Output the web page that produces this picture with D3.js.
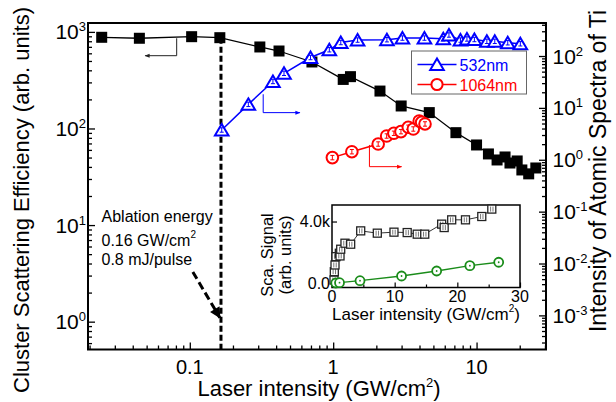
<!DOCTYPE html>
<html>
<head>
<meta charset="utf-8">
<script src="https://cdn.jsdelivr.net/npm/d3@7"></script>
<style>
  body { margin: 0; background: #fff; }
  text { font-family: "Liberation Sans", Arial, sans-serif; }
</style>
</head>
<body>
<div id="chart"></div>
<script>
// Black squares: cluster scattering efficiency (left axis)
const scatX = [0.0243, 0.0445, 0.103, 0.162, 0.308, 0.419, 0.711, 1.175, 1.32, 2.12, 2.98, 4.68, 7.18, 10.0, 12.1, 13.9, 15.8, 17.1, 19.2, 20.7, 23.1, 25.9];
const scatY = [879, 859, 892, 871, 698, 634, 488, 322, 344, 244, 171, 146, 90.5, 67.5, 54.5, 47.2, 50.7, 43.9, 46.1, 37.2, 33.9, 39.0];

// 532nm atomic spectra (right axis)
const g532X = [0.167, 0.256, 0.380, 0.454, 0.695, 0.940, 1.13, 1.48, 2.37, 3.04, 4.33, 5.86, 6.42, 7.72, 8.57, 9.66, 11.8, 13.4, 16.5, 20.2];
const g532Y = [3.75, 11.7, 32.3, 46.4, 93.6, 132, 182, 203, 206, 222, 222, 215, 254, 203, 213, 208, 192, 192, 180, 172];

// 1064nm atomic spectra (right axis)
const r1064X = [0.987, 1.35, 2.06, 2.36, 2.65, 2.97, 3.34, 3.62, 3.98, 4.14, 4.37];
const r1064Y = [1.10, 1.43, 2.01, 2.87, 3.24, 3.48, 4.23, 3.92, 5.59, 5.28, 4.90];

// Inset (linear): scattering signal and green series
const insetSqX = [0.32, 0.37, 0.48, 0.64, 1.17, 1.28, 1.39, 2.07, 2.98, 4.58, 7.23, 9.89, 12.0, 13.6, 14.8, 17.5, 17.9, 19.1, 21.3, 23.9, 25.5];
const insetSqY = [214, 753, 1188, 1727, 1948, 1773, 2208, 2597, 2532, 3396, 3247, 3312, 3286, 3182, 3182, 3831, 3610, 4110, 4110, 4325, 4805];
const insetCirX = [0.6, 1.2, 4.47, 11.1, 16.7, 22.0, 26.6];
const insetCirY = [20, 40, 169, 474, 799, 1143, 1364];

// Tick labels
const xTicks = [0.1, 1, 10];
const xTickLabels = ["0.1", "1", "10"];
const leftExp = [0, 1, 2, 3];
const rightExp = [-3, -2, -1, 0, 1, 2];
const insetXTicks = [0, 10, 20, 30];
const insetYTicks = [0, 4000];
const insetYTickLabels = ["0.0", "4.0k"];

const W = 616, H = 402;
const margin = { top: 23, right: 70, bottom: 52.5, left: 88 };
const width = W - margin.left - margin.right;
const height = H - margin.top - margin.bottom;

const svg = d3.select("#chart").append("svg")
    .attr("width", W).attr("height", H);

// arrowheads
const defs = svg.append("defs");
[["ah-black", "#222"], ["ah-blue", "#0000ff"], ["ah-red", "#ff0000"]].forEach(([id, c]) => {
    defs.append("marker").attr("id", id)
        .attr("viewBox", "0 0 10 10").attr("refX", 9).attr("refY", 5)
        .attr("markerWidth", 7).attr("markerHeight", 5).attr("orient", "auto")
        .attr("markerUnits", "userSpaceOnUse")
        .append("path").attr("d", "M0,1 L10,5 L0,9 Z").attr("fill", c);
});
defs.append("marker").attr("id", "ah-big")
    .attr("viewBox", "0 0 10 10").attr("refX", 9).attr("refY", 5)
    .attr("markerWidth", 13).attr("markerHeight", 11).attr("orient", "auto")
    .attr("markerUnits", "userSpaceOnUse")
    .append("path").attr("d", "M0,0 L10,5 L0,10 Z").attr("fill", "#000");

const g = svg.append("g").attr("transform", `translate(${margin.left},${margin.top})`);

const x = d3.scaleLog().domain([0.0195, 30.5]).range([0, width]);
const yL = d3.scaleLog().domain([0.515, 1236]).range([height, 0]);
const yR = d3.scaleLog().domain([2.2e-4, 433]).range([height, 0]);

function minorTicks(domain) {
    const out = [];
    const lo = Math.floor(Math.log10(domain[0])), hi = Math.ceil(Math.log10(domain[1]));
    for (let e = lo; e <= hi; e++) {
        for (let k = 2; k <= 9; k++) {
            const v = k * Math.pow(10, e);
            if (v >= domain[0] && v <= domain[1]) out.push(v);
        }
    }
    return out;
}
function majorTicks(domain) {
    const out = [];
    for (let e = Math.ceil(Math.log10(domain[0])); Math.pow(10, e) <= domain[1]; e++) out.push(Math.pow(10, e));
    return out;
}

// ticks (inward)
function tickLayer(axisFn, scale, tx, ty) {
    const d = scale.domain();
    const gg = g.append("g").attr("transform", `translate(${tx},${ty})`);
    gg.append("g").call(axisFn(scale).tickValues(minorTicks(d)).tickSize(-4).tickFormat(""));
    gg.append("g").call(axisFn(scale).tickValues(majorTicks(d)).tickSize(-7).tickFormat(""));
    gg.selectAll(".domain").remove();
    gg.selectAll("line").attr("stroke", "#000").attr("stroke-width", 1.3);
}
tickLayer(d3.axisBottom, x, 0, height);
tickLayer(d3.axisLeft, yL, 0, 0);
tickLayer(d3.axisRight, yR, width, 0);

// frame
g.append("rect").attr("width", width).attr("height", height)
    .attr("fill", "none").attr("stroke", "#000").attr("stroke-width", 2);

// tick labels
g.selectAll(".xlab").data(xTicks).join("text")
    .attr("x", d => x(d)).attr("y", height + 24)
    .attr("text-anchor", "middle").attr("font-size", 20)
    .text((d, i) => xTickLabels[i]);

function powLabel(sel, anchor) {
    sel.attr("text-anchor", anchor).attr("font-size", 21);
    sel.append("tspan").text("10");
    sel.append("tspan").attr("font-size", 13).attr("dy", -8).text(d => d);
}
g.selectAll(".ylab").data(leftExp).join("text")
    .attr("x", -2).attr("y", d => yL(Math.pow(10, d)) + 7.5)
    .call(powLabel, "end");
g.selectAll(".yrlab").data(rightExp).join("text")
    .attr("x", width + 6.5).attr("y", d => yR(Math.pow(10, d)) + 7.5)
    .call(powLabel, "start");

// axis titles
const xTitle = svg.append("text").attr("x", 319).attr("y", 396)
    .attr("text-anchor", "middle").attr("font-size", 22);
xTitle.append("tspan").text("Laser intensity (GW/cm");
xTitle.append("tspan").attr("font-size", 13).attr("dy", -9).text("2");
xTitle.append("tspan").attr("dy", 9).text(")");

svg.append("text").attr("transform", "translate(29,200) rotate(-90)")
    .attr("text-anchor", "middle").attr("font-size", 22)
    .text("Cluster Scattering Efficiency (arb. units)");
svg.append("text").attr("transform", "translate(606,171) rotate(-90)")
    .attr("text-anchor", "middle").attr("font-size", 23)
    .text("Intensity of Atomic Spectra of Ti");

// dashed ablation line
const ablX = 0.165;
g.append("line")
    .attr("x1", x(ablX)).attr("x2", x(ablX))
    .attr("y1", yL(871)).attr("y2", height)
    .attr("stroke", "#000").attr("stroke-width", 3).attr("stroke-dasharray", "6,3");

// annotation text
const ann = g.append("text").attr("font-size", 16).attr("fill", "#000");
ann.append("tspan").attr("x", 13.5).attr("y", 198.5).text("Ablation energy");
ann.append("tspan").attr("x", 13.5).attr("y", 222.5).text("0.16 GW/cm");
ann.append("tspan").attr("font-size", 10).attr("dy", -8).text("2");
ann.append("tspan").attr("x", 13.5).attr("y", 242).text("0.8 mJ/pulse");

g.append("line")
    .attr("x1", x(0.105)).attr("y1", yL(3.27))
    .attr("x2", x(0.162)).attr("y2", yL(1.1))
    .attr("stroke", "#000").attr("stroke-width", 3).attr("stroke-dasharray", "8,4")
    .attr("marker-end", "url(#ah-big)");

// series lines
const line = (xs, ys, yS) => d3.line().x((d, i) => x(xs[i])).y(d => yS(d));

g.append("path").attr("d", line(scatX, scatY, yL)(scatY))
    .attr("fill", "none").attr("stroke", "#000").attr("stroke-width", 1.3);
g.append("path").attr("d", line(g532X, g532Y, yR)(g532Y))
    .attr("fill", "none").attr("stroke", "#0000ff").attr("stroke-width", 1.5);
g.append("path").attr("d", line(r1064X, r1064Y, yR)(r1064Y))
    .attr("fill", "none").attr("stroke", "#ff0000").attr("stroke-width", 1.5);

// markers
g.selectAll(".sq").data(scatY).join("rect")
    .attr("x", (d, i) => x(scatX[i]) - 5.5).attr("y", d => yL(d) - 5.5)
    .attr("width", 11).attr("height", 11).attr("fill", "#000");

function errBar(sel, color, h) {
    sel.append("path")
        .attr("d", `M-2,${-h}H2M0,${-h}V${h}M-2,${h}H2`)
        .attr("stroke", color).attr("stroke-width", 1).attr("fill", "none");
}

const tri = g.selectAll(".tri").data(g532Y).join("g")
    .attr("transform", (d, i) => `translate(${x(g532X[i])},${yR(d)})`);
tri.append("path").attr("d", "M0,-6 L6.8,5.5 L-6.8,5.5 Z")
    .attr("fill", "#fff").attr("stroke", "#0000ff").attr("stroke-width", 2);
tri.call(errBar, "#0000ff", 2.2);

const cir = g.selectAll(".cir").data(r1064Y).join("g")
    .attr("transform", (d, i) => `translate(${x(r1064X[i])},${yR(d)})`);
cir.append("circle").attr("r", 5.8)
    .attr("fill", "#fff").attr("stroke", "#ff0000").attr("stroke-width", 2);
cir.call(errBar, "#ff0000", 2.2);

// small direction arrows
function elbow(pts, color, id) {
    g.append("path").attr("d", d3.line()(pts))
        .attr("fill", "none").attr("stroke", color).attr("stroke-width", 1)
        .attr("marker-end", `url(#${id})`);
}
elbow([[x(0.081), yL(859)], [x(0.081), yL(567)], [x(0.0488), yL(567)]], "#222", "ah-black");
elbow([[x(0.325), yR(18.3)], [x(0.325), yR(8.1)], [x(0.586), yR(8.1)]], "#0000ff", "ah-blue");
elbow([[x(1.79), yR(1.93)], [x(1.79), yR(0.736)], [x(3.0), yR(0.736)]], "#ff0000", "ah-red");

// legend
const lg = svg.append("g").attr("transform", "translate(411.5,51)");
lg.append("rect").attr("width", 115).attr("height", 43)
    .attr("fill", "#fff").attr("stroke", "#666").attr("stroke-width", 1);
const legendItems = [
    { label: "532nm", color: "#0000ff", shape: "tri" },
    { label: "1064nm", color: "#ff0000", shape: "cir" }
];
legendItems.forEach((it, i) => {
    const yy = 13.5 + i * 20;
    lg.append("line").attr("x1", 6).attr("x2", 45).attr("y1", yy).attr("y2", yy)
        .attr("stroke", it.color).attr("stroke-width", 1.5);
    if (it.shape === "tri") {
        lg.append("path").attr("transform", `translate(25.5,${yy})`)
            .attr("d", "M0,-6 L6.8,5.5 L-6.8,5.5 Z")
            .attr("fill", "#fff").attr("stroke", it.color).attr("stroke-width", 2);
    } else {
        lg.append("circle").attr("cx", 25.5).attr("cy", yy).attr("r", 5.6)
            .attr("fill", "#fff").attr("stroke", it.color).attr("stroke-width", 2);
    }
    lg.append("text").attr("x", 48).attr("y", yy + 6).attr("font-size", 16)
        .attr("fill", it.color).text(it.label);
});

// ---------- inset ----------
const inset = { left: 332, top: 205, right: 520, bottom: 287.5 };
const xi = d3.scaleLinear().domain([0, 30]).range([inset.left, inset.right]);
const yi = d3.scaleLinear().domain([-270, 5070]).range([inset.bottom, inset.top]);
const ig = svg.append("g");

ig.append("rect").attr("x", inset.left).attr("y", inset.top)
    .attr("width", inset.right - inset.left).attr("height", inset.bottom - inset.top)
    .attr("fill", "#fff").attr("stroke", "#000").attr("stroke-width", 1.5);

const ixAxis = ig.append("g").attr("transform", `translate(0,${inset.bottom})`);
ixAxis.append("g").call(d3.axisBottom(xi).tickValues([5, 15, 25]).tickSize(-3).tickFormat(""));
ixAxis.append("g").call(d3.axisBottom(xi).tickValues(insetXTicks).tickSize(-5).tickFormat(""));
const iyAxis = ig.append("g").attr("transform", `translate(${inset.left},0)`);
iyAxis.append("g").call(d3.axisLeft(yi).tickValues([2000]).tickSize(-3).tickFormat(""));
iyAxis.append("g").call(d3.axisLeft(yi).tickValues(insetYTicks).tickSize(-5).tickFormat(""));
ig.selectAll(".domain").remove();
ig.selectAll("line").attr("stroke", "#000").attr("stroke-width", 1.2);

ig.selectAll(".ixl").data(insetXTicks).join("text")
    .attr("x", d => xi(d)).attr("y", inset.bottom + 14)
    .attr("text-anchor", "middle").attr("font-size", 16).text(d => d);
ig.selectAll(".iyl").data(insetYTicks).join("text")
    .attr("x", inset.left - 2).attr("y", d => yi(d) + 5.5)
    .attr("text-anchor", "end").attr("font-size", 16)
    .text((d, i) => insetYTickLabels[i]);

const ixTitle = ig.append("text").attr("x", 426).attr("y", 320)
    .attr("text-anchor", "middle").attr("font-size", 17);
ixTitle.append("tspan").text("Laser intensity (GW/cm");
ixTitle.append("tspan").attr("font-size", 10).attr("dy", -8).text("2");
ixTitle.append("tspan").attr("dy", 8).text(")");

ig.append("text").attr("transform", "translate(273,255) rotate(-90)")
    .attr("text-anchor", "middle").attr("font-size", 16.5).text("Sca. Signal");
ig.append("text").attr("transform", "translate(291,255) rotate(-90)")
    .attr("text-anchor", "middle").attr("font-size", 16.5).text("(arb. units)");

const iline = (xs) => d3.line().x((d, i) => xi(xs[i])).y(d => yi(d));
ig.append("path").attr("d", iline(insetSqX)(insetSqY))
    .attr("fill", "none").attr("stroke", "#333").attr("stroke-width", 1);
ig.append("path").attr("d", iline(insetCirX)(insetCirY))
    .attr("fill", "none").attr("stroke", "#1a8c1a").attr("stroke-width", 1.3);

const isq = ig.selectAll(".isq").data(insetSqY).join("g")
    .attr("transform", (d, i) => `translate(${xi(insetSqX[i])},${yi(d)})`);
isq.append("rect").attr("x", -4).attr("y", -4).attr("width", 8).attr("height", 8)
    .attr("fill", "#fff").attr("stroke", "#222").attr("stroke-width", 1.3);
isq.append("path").attr("d", "M-1.2,-2.5V2.5M1.2,-2.5V2.5")
    .attr("stroke", "#555").attr("stroke-width", 0.8);

const icir = ig.selectAll(".icir").data(insetCirY).join("g")
    .attr("transform", (d, i) => `translate(${xi(insetCirX[i])},${yi(d)})`);
icir.append("circle").attr("r", 4.5)
    .attr("fill", "#fff").attr("stroke", "#1a8c1a").attr("stroke-width", 1.8);
icir.append("circle").attr("r", 0.9).attr("fill", "#1a8c1a");
</script>
</body>
</html>
